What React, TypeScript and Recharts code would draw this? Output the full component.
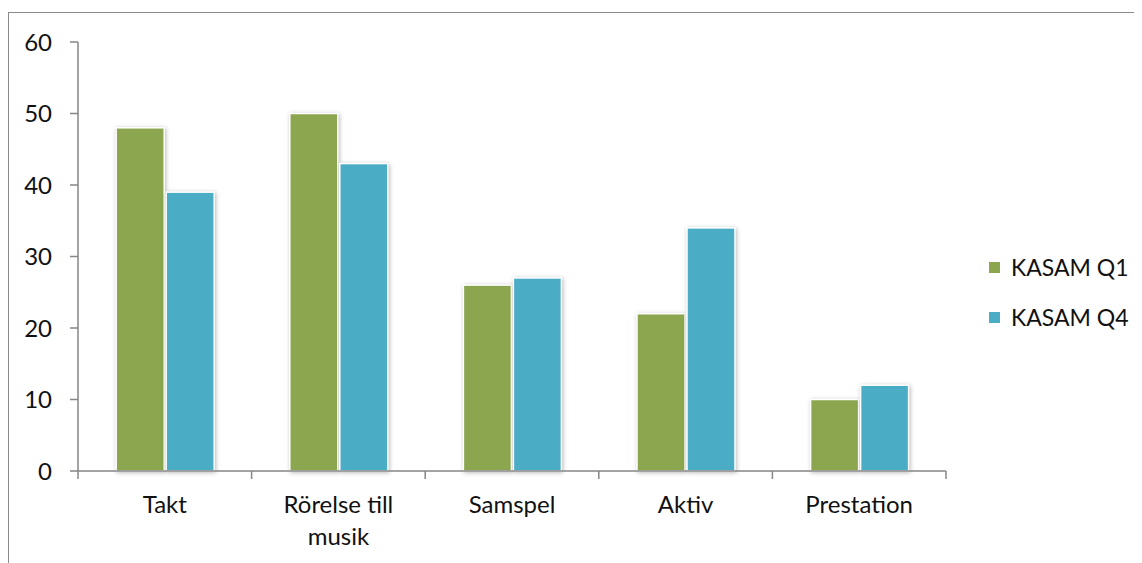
import React from "react";
import { BarChart, Bar, XAxis, YAxis } from "recharts";

const categories = ["Takt", "Rörelse till musik", "Samspel", "Aktiv", "Prestation"];
const kasamQ1 = [48, 50, 26, 22, 10];
const kasamQ4 = [39, 43, 27, 34, 12];
const yTicks = [0, 10, 20, 30, 40, 50, 60];

const seriesNames = ["KASAM Q1", "KASAM Q4"];
const seriesColors = ["#8BA64E", "#4BACC6"];

const data = categories.map((name, i) => ({
  name,
  q1: kasamQ1[i],
  q4: kasamQ4[i],
}));

const FONT = "Lato, 'Noto Sans', sans-serif";
const AXIS_COLOR = "#868686";
const CHART_W = 1134;
const CHART_H = 555;
const MARGIN = { top: 34, right: 196, bottom: 0, left: 0 };
const Y_WIDTH = 70;
const PLOT_W = CHART_W - MARGIN.left - MARGIN.right - Y_WIDTH;

function wrapLabel(label: string, maxChars: number): string[] {
  const words = label.split(" ");
  const lines: string[] = [];
  let cur = "";
  for (const w of words) {
    const next = cur ? cur + " " + w : w;
    if (next.length > maxChars && cur) {
      lines.push(cur);
      cur = w;
    } else {
      cur = next;
    }
  }
  if (cur) lines.push(cur);
  return lines;
}

const CategoryTick = (props: any) => {
  const { x, y, payload, index, visibleTicksCount } = props;
  const band = PLOT_W / categories.length;
  const half = band / 2;
  const lines = wrapLabel(String(payload.value), 14);
  const isLast = index === (visibleTicksCount ?? categories.length) - 1;
  return (
    <g>
      <line x1={x - half} x2={x - half} y1={y} y2={y + 8} stroke={AXIS_COLOR} strokeWidth={1.5} />
      {isLast && (
        <line x1={x + half} x2={x + half} y1={y} y2={y + 8} stroke={AXIS_COLOR} strokeWidth={1.5} />
      )}
      <text x={x} y={y + 42} textAnchor="middle" fontFamily={FONT} fontSize={24} fill="#111">
        {lines.map((ln, i) => (
          <tspan key={i} x={x} dy={i === 0 ? 0 : 32}>
            {ln}
          </tspan>
        ))}
      </text>
    </g>
  );
};

const ShadowBar = (props: any) => {
  const { x, y, width, height, fill } = props;
  if (!height || height <= 0) return null;
  return (
    <rect
      x={x}
      y={y}
      width={width}
      height={height}
      fill={fill}
      stroke="#ffffff"
      strokeWidth={1.5}
      style={{ filter: "drop-shadow(1.5px 1px 2px rgba(0,0,0,0.28))" }}
    />
  );
};

const SeriesLegend = () => (
  <div
    style={{
      position: "absolute",
      left: 981,
      top: 234,
      fontFamily: FONT,
      fontSize: 23,
      color: "#111",
    }}
  >
    {seriesNames.map((n, i) => (
      <div key={n} style={{ display: "flex", alignItems: "center", height: 50 }}>
        <span
          style={{
            display: "inline-block",
            width: 11,
            height: 11,
            background: seriesColors[i],
            marginRight: 11,
          }}
        />
        <span>{n}</span>
      </div>
    ))}
  </div>
);

export default function App() {
  return (
    <div style={{ position: "relative", width: CHART_W, height: CHART_H, overflow: "hidden", background: "#fff" }}>
      <div
        style={{
          position: "absolute",
          left: 0,
          top: 4,
          width: 1300,
          height: 800,
          border: "1.5px solid #8a8a8a",
          boxSizing: "border-box",
        }}
      />
      <BarChart
        width={CHART_W}
        height={CHART_H}
        data={data}
        margin={MARGIN}
        barCategoryGap="22%"
        barGap={2}
        style={{ position: "absolute", left: 0, top: 0 }}
      >
        <YAxis
          domain={[0, 60]}
          ticks={yTicks}
          width={Y_WIDTH}
          interval={0}
          tickSize={8}
          tickMargin={18}
          axisLine={{ stroke: AXIS_COLOR, strokeWidth: 1.5 }}
          tickLine={{ stroke: AXIS_COLOR, strokeWidth: 1.5 }}
          tick={{ fontFamily: FONT, fontSize: 24, fill: "#111" }}
        />
        <XAxis
          dataKey="name"
          height={CHART_H - 463}
          interval={0}
          tickSize={0}
          tickMargin={0}
          tickLine={false}
          axisLine={{ stroke: AXIS_COLOR, strokeWidth: 1.5 }}
          tick={<CategoryTick />}
        />
        <Bar dataKey="q1" name={seriesNames[0]} fill={seriesColors[0]} shape={<ShadowBar />} isAnimationActive={false} />
        <Bar dataKey="q4" name={seriesNames[1]} fill={seriesColors[1]} shape={<ShadowBar />} isAnimationActive={false} />
      </BarChart>
      <SeriesLegend />
    </div>
  );
}
